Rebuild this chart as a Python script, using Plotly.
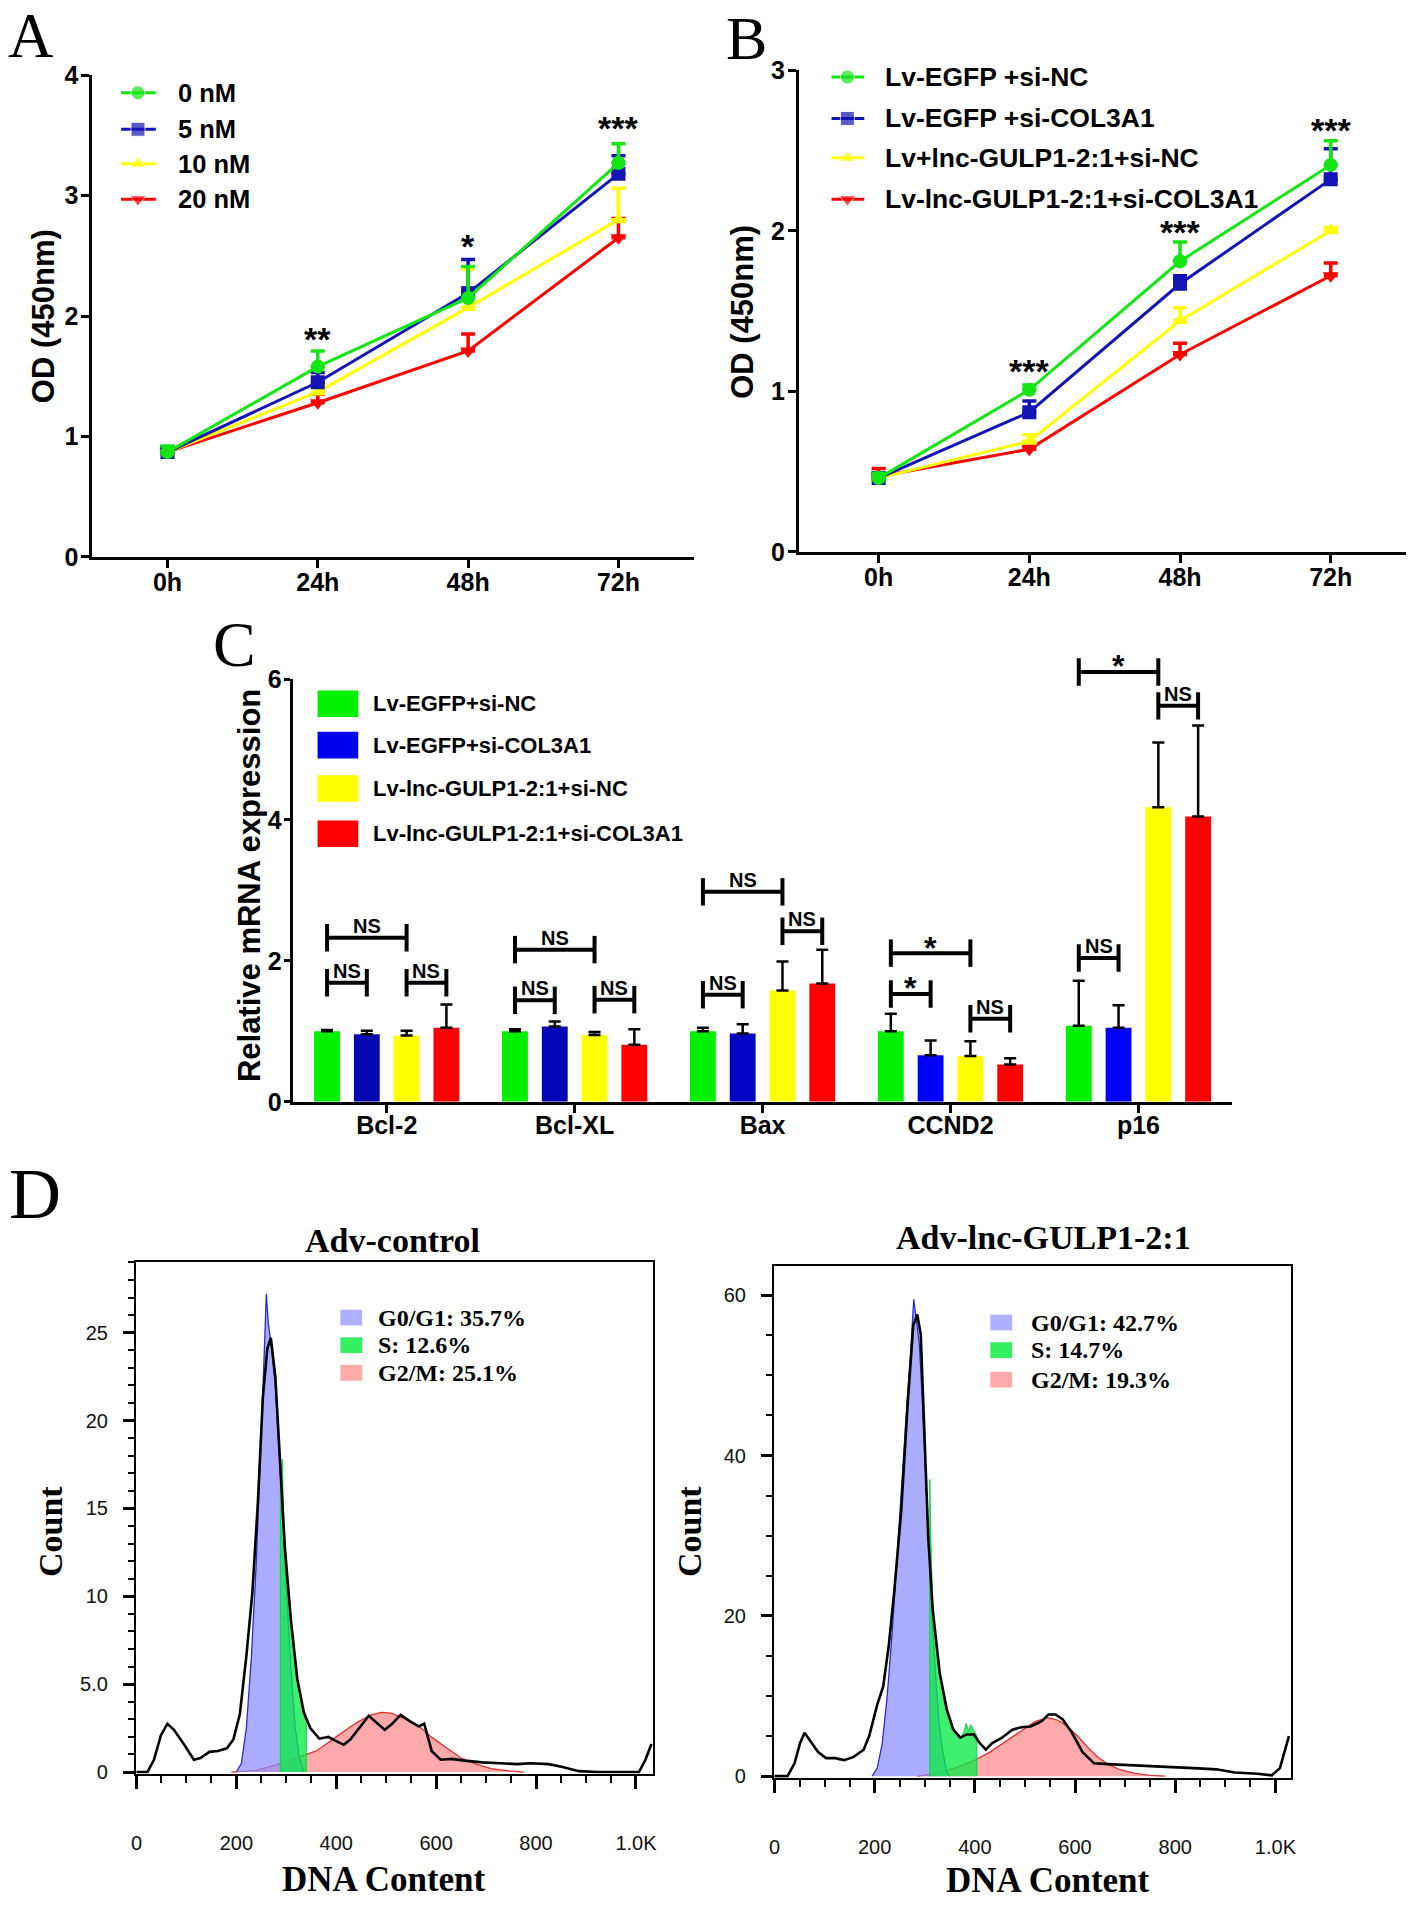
import plotly.graph_objects as go

W, H = 1418, 1909

# ---------------- Panel A data ----------------
time_labels = ['0h', '24h', '48h', '72h']
a_names = ['0 nM', '5 nM', '10 nM', '20 nM']
a_0nM = [0.87, 1.58, 2.15, 3.27]
a_5nM = [0.87, 1.45, 2.19, 3.18]
a_10nM = [0.87, 1.37, 2.07, 2.80]
a_20nM = [0.87, 1.28, 1.71, 2.65]
a_err_0nM = [0.05, 0.13, 0.26, 0.16]
a_err_5nM = [0.04, 0.08, 0.28, 0.15]
a_err_10nM = [0.03, 0.05, 0.32, 0.26]
a_err_20nM = [0.03, 0.07, 0.14, 0.16]
a_sig = ['**', '*', '***']
a_sig_t = ['24h', '48h', '72h']
a_sig_y = [1.84, 2.61, 3.59]

# ---------------- Panel B data ----------------
b_names = ['Lv-EGFP +si-NC', 'Lv-EGFP +si-COL3A1', 'Lv+lnc-GULP1-2:1+si-NC', 'Lv-lnc-GULP1-2:1+si-COL3A1']
b_egfp_nc = [0.46, 1.01, 1.81, 2.41]
b_egfp_col = [0.46, 0.87, 1.67, 2.32]
b_lnc_nc = [0.46, 0.69, 1.44, 2.00]
b_lnc_col = [0.47, 0.64, 1.23, 1.72]
b_err_egfp_nc = [0.03, 0.03, 0.12, 0.15]
b_err_egfp_col = [0.03, 0.07, 0.05, 0.19]
b_err_lnc_nc = [0.03, 0.04, 0.08, 0.02]
b_err_lnc_col = [0.05, 0.02, 0.07, 0.08]
b_sig = ['***', '***', '***']
b_sig_t = ['24h', '48h', '72h']
b_sig_y = [1.15, 2.01, 2.65]

# ---------------- Panel C data ----------------
genes = ['Bcl-2', 'Bcl-XL', 'Bax', 'CCND2', 'p16']
c_names = ['Lv-EGFP+si-NC', 'Lv-EGFP+si-COL3A1', 'Lv-lnc-GULP1-2:1+si-NC', 'Lv-lnc-GULP1-2:1+si-COL3A1']
c_egfp_nc = [1.00, 1.00, 1.00, 1.00, 1.08]
c_egfp_col = [0.96, 1.07, 0.97, 0.66, 1.05]
c_lnc_nc = [0.94, 0.95, 1.58, 0.65, 4.18]
c_lnc_col = [1.05, 0.81, 1.68, 0.53, 4.05]
c_err_egfp_nc = [0.02, 0.03, 0.05, 0.25, 0.64]
c_err_egfp_col = [0.05, 0.07, 0.13, 0.21, 0.32]
c_err_lnc_nc = [0.07, 0.04, 0.41, 0.21, 0.92]
c_err_lnc_col = [0.33, 0.22, 0.48, 0.09, 1.29]
# brackets: gene index, from bar, to bar, y of line, label
br_gene = [0, 0, 0, 1, 1, 1, 2, 2, 2, 3, 3, 3, 4, 4, 4]
br_from = [0, 0, 2, 0, 0, 2, 0, 0, 2, 0, 0, 2, 0, 0, 2]
br_to = [2, 1, 3, 2, 1, 3, 2, 1, 3, 2, 1, 3, 2, 1, 3]
br_y = [2.33, 1.69, 1.69, 2.16, 1.44, 1.45, 2.98, 1.52, 2.42, 2.11, 1.53, 1.18, 6.10, 2.04, 5.62]
br_lab = ['NS', 'NS', 'NS', 'NS', 'NS', 'NS', 'NS', 'NS', 'NS', '*', '*', 'NS', '*', 'NS', 'NS']

# ---------------- Panel D data ----------------
d_ctrl_x = [0, 22, 35, 49, 62, 75, 97, 115, 128, 146, 163, 181, 194, 207, 220, 232, 243, 253, 262, 269,
            278, 287, 297, 309, 322, 335, 348, 366, 384, 397, 415, 428, 445, 465, 481, 497, 512, 529, 547, 565,
            576, 591, 609, 631, 657, 692, 728, 763, 789, 825, 851, 886, 922, 975, 1006, 1019, 1031]
d_ctrl_y = [0, 0, 0.7, 2.1, 2.75, 2.4, 1.5, 0.7, 0.8, 1.15, 1.2, 1.35, 1.85, 3.3, 6.6, 10.2, 15.3, 21.3, 24.1, 24.7,
            22.5, 17.9, 12.8, 8.7, 5.3, 3.4, 2.5, 1.9, 2.0, 1.8, 1.55, 1.85, 2.5, 3.2, 2.8, 2.4, 2.75, 3.25, 2.9, 2.6,
            2.75, 1.2, 0.7, 0.75, 0.65, 0.55, 0.5, 0.45, 0.5, 0.45, 0.3, 0.05, 0, 0, 0, 0.7, 1.6]
d_ctrl_g1_x = [200, 210, 220, 230, 240, 250, 256, 260, 264, 270, 278, 286, 294, 302, 310, 318, 326, 335]
d_ctrl_g1_y = [0, 0.5, 2.5, 6.5, 12, 19, 24, 27.2, 25.5, 24.3, 22, 18, 13.5, 9.5, 5.5, 2.5, 0.8, 0]
d_ctrl_s_x = [288, 288, 292, 295, 300, 306, 312, 318, 324, 330, 336, 340, 340]
d_ctrl_s_y = [0, 16.5, 17.8, 14.0, 11.8, 9.6, 7.6, 6.0, 4.9, 4.0, 3.2, 2.9, 0]
d_ctrl_g2_x = [190, 240, 290, 330, 360, 400, 440, 470, 490, 510, 540, 570, 590, 620, 650, 680, 710, 745, 776]
d_ctrl_g2_y = [0, 0.1, 0.5, 0.9, 1.2, 2.0, 2.8, 3.25, 3.4, 3.35, 3.0, 2.5, 2.0, 1.4, 0.8, 0.45, 0.2, 0.07, 0]
d_ctrl_legend = ['G0/G1: 35.7%', 'S: 12.6%', 'G2/M: 25.1%']

d_lnc_x = [0, 26, 40, 51, 60, 72, 87, 103, 121, 139, 158, 178, 189, 205, 217, 228, 239, 253, 266, 277,
           285, 292, 298, 307, 316, 330, 344, 357, 371, 384, 398, 410, 422, 434, 452, 475, 493, 511, 525, 534,
           547, 561, 575, 593, 615, 638, 665, 701, 747, 792, 837, 882, 919, 964, 993, 1009, 1020, 1027]
d_lnc_y = [0, 0, 1.6, 4.1, 5.4, 4.3, 3.0, 2.25, 2.25, 2.0, 2.4, 3.3, 5.0, 8.9, 11.2, 16.2, 23, 33.1, 46.6, 56.2,
           57.6, 55.1, 44.4, 29.7, 20.7, 12.8, 8.3, 5.8, 4.8, 5.2, 5.2, 4.1, 3.3, 4.1, 4.7, 5.8, 6.1, 6.2, 6.6, 6.9,
           7.7, 7.7, 7.1, 5.5, 3.0, 1.6, 1.5, 1.4, 1.3, 1.2, 1.0, 0.85, 0.45, 0.3, 0.1, 1.0, 3.3, 5.0]
d_lnc_g1_x = [195, 205, 215, 225, 235, 245, 255, 265, 272, 278, 283, 289, 295, 301, 307, 313, 320, 328, 336, 344, 350]
d_lnc_g1_y = [0, 1, 4, 10, 18, 28, 38, 47, 53, 59.5, 57, 54, 47, 38, 30, 22, 14, 7, 3, 0.5, 0]
d_lnc_s_x = [310, 310, 312, 316, 323, 330, 337, 344, 351, 357, 364, 371, 378, 383, 387, 392, 397, 401, 404, 404]
d_lnc_s_y = [0, 37, 30, 20.7, 16.5, 12.8, 10.2, 8.3, 6.9, 5.8, 5.1, 4.8, 5.5, 6.6, 5.6, 6.4, 5.8, 5.4, 5.0, 0]
d_lnc_g2_x = [285, 320, 360, 400, 430, 460, 490, 520, 545, 565, 585, 605, 625, 645, 665, 690, 720, 750, 780]
d_lnc_g2_y = [0, 0.3, 1.0, 2.0, 3.0, 4.3, 5.6, 6.8, 7.3, 7.0, 6.2, 5.0, 3.6, 2.4, 1.5, 0.8, 0.35, 0.1, 0]
d_lnc_legend = ['G0/G1: 42.7%', 'S: 14.7%', 'G2/M: 19.3%']

dna_ticks = [0, 200, 400, 600, 800, 1000]
dna_ticktext = ['0', '200', '400', '600', '800', '1.0K']

# ---------------- styles ----------------
SANS = 'Liberation Sans'
NARROW = 'Liberation Sans Narrow, Liberation Sans'
SERIF = 'Liberation Serif'
GREEN, BLUE, YELLOW, RED = '#14e614', '#1414b4', '#ffff00', '#ff0000'
C_GREEN, C_YELLOW, C_RED = '#00f000', '#ffff00', '#ff0000'
C_BLUE = ['#0808b0', '#0505b8', '#0505c4', '#0000ff', '#0000ff']


def X(px):
    return px / W


def Y(py):
    return 1 - py / H


fig = go.Figure()


def add_line(xv, yv, err, color, symbol, xa, ya):
    fig.add_trace(go.Scatter(
        x=xv, y=yv, mode='lines+markers', xaxis=xa, yaxis=ya, showlegend=False,
        line=dict(color=color, width=3),
        marker=dict(symbol=symbol, size=14, color=color),
        error_y=dict(type='data', array=err, arrayminus=[0] * len(err), symmetric=False,
                     color=color, thickness=3.5, width=7)))


# Panel A (drawn bottom to top)
add_line(time_labels, a_20nM, a_err_20nM, RED, 'triangle-down', 'x', 'y')
add_line(time_labels, a_10nM, a_err_10nM, YELLOW, 'triangle-up', 'x', 'y')
add_line(time_labels, a_5nM, a_err_5nM, BLUE, 'square', 'x', 'y')
add_line(time_labels, a_0nM, a_err_0nM, GREEN, 'circle', 'x', 'y')
# Panel B
add_line(time_labels, b_lnc_col, b_err_lnc_col, RED, 'triangle-down', 'x2', 'y2')
add_line(time_labels, b_lnc_nc, b_err_lnc_nc, YELLOW, 'triangle-up', 'x2', 'y2')
add_line(time_labels, b_egfp_col, b_err_egfp_col, BLUE, 'square', 'x2', 'y2')
add_line(time_labels, b_egfp_nc, b_err_egfp_nc, GREEN, 'circle', 'x2', 'y2')

# Panel C bars
for vals, errs, col, name in [(c_egfp_nc, c_err_egfp_nc, C_GREEN, c_names[0]),
                              (c_egfp_col, c_err_egfp_col, C_BLUE, c_names[1]),
                              (c_lnc_nc, c_err_lnc_nc, C_YELLOW, c_names[2]),
                              (c_lnc_col, c_err_lnc_col, C_RED, c_names[3])]:
    fig.add_trace(go.Bar(
        x=genes, y=vals, name=name, xaxis='x3', yaxis='y3', showlegend=False,
        marker=dict(color=col, line=dict(width=0)),
        error_y=dict(type='data', array=errs, arrayminus=[0] * len(errs), symmetric=False,
                     color='black', thickness=2.5, width=6)))

# overlay axis for C significance brackets
fig.add_trace(go.Scatter(x=[], y=[], xaxis='x4', yaxis='y4', showlegend=False, hoverinfo='skip'))


# Panel D histograms
def add_hist(xa, ya, bx, by, g1x, g1y, sx, sy, g2x, g2y):
    fig.add_trace(go.Scatter(x=g2x, y=g2y, xaxis=xa, yaxis=ya, mode='lines', fill='tozeroy',
                             fillcolor='rgba(255,100,100,0.55)', line=dict(color='#e43030', width=1.3),
                             showlegend=False))
    fig.add_trace(go.Scatter(x=g1x, y=g1y, xaxis=xa, yaxis=ya, mode='lines', fill='tozeroy',
                             fillcolor='rgba(140,140,255,0.72)', line=dict(color='#2a2ad0', width=1.3),
                             showlegend=False))
    fig.add_trace(go.Scatter(x=sx, y=sy, xaxis=xa, yaxis=ya, mode='lines', fill='toself',
                             fillcolor='rgba(10,235,70,0.78)', line=dict(color='#10d040', width=1),
                             showlegend=False))
    fig.add_trace(go.Scatter(x=bx, y=by, xaxis=xa, yaxis=ya, mode='lines',
                             line=dict(color='black', width=2.6), showlegend=False))


add_hist('x5', 'y5', d_ctrl_x, d_ctrl_y, d_ctrl_g1_x, d_ctrl_g1_y, d_ctrl_s_x, d_ctrl_s_y, d_ctrl_g2_x, d_ctrl_g2_y)
add_hist('x6', 'y6', d_lnc_x, d_lnc_y, d_lnc_g1_x, d_lnc_g1_y, d_lnc_s_x, d_lnc_s_y, d_lnc_g2_x, d_lnc_g2_y)

# ---------------- pixel overlay for legends ----------------
shapes = []
annotations = []


def ann(x, y, text, size, family=SANS, bold=True, xanchor='center', yanchor='middle', angle=0, ref=('x7', 'y7')):
    annotations.append(dict(x=x, y=y, xref=ref[0], yref=ref[1], text=text, showarrow=False,
                            xanchor=xanchor, yanchor=yanchor, textangle=angle,
                            font=dict(family=family, size=size, color='black',
                                      weight='bold' if bold else 'normal')))


# legend A
a_leg_y = [80, 117, 152, 188]
a_cols = [GREEN, BLUE, YELLOW, RED]
a_syms = ['circle', 'square', 'triangle-up', 'triangle-down']
for i in range(4):
    fig.add_trace(go.Scatter(x=[117, 134, 152], y=[a_leg_y[i]] * 3, xaxis='x7', yaxis='y7', mode='lines+markers',
                             line=dict(color=a_cols[i], width=3),
                             marker=dict(symbol=a_syms[i], size=[0, 14, 0], color=a_cols[i]),
                             showlegend=False, hoverinfo='skip'))
    ann(172, a_leg_y[i], a_names[i], 25.5, xanchor='left')

# legend B
b_leg_y = [64, 106, 146, 188]
for i in range(4):
    fig.add_trace(go.Scatter(x=[833, 849, 866], y=[b_leg_y[i]] * 3, xaxis='x7', yaxis='y7', mode='lines+markers',
                             line=dict(color=a_cols[i], width=3),
                             marker=dict(symbol=a_syms[i], size=[0, 14, 0], color=a_cols[i]),
                             showlegend=False, hoverinfo='skip'))
    ann(885, b_leg_y[i], b_names[i], 26.5, xanchor='left')

# legend C
c_leg_y = [700, 742, 786, 832]
c_leg_cols = [C_GREEN, '#0000f0', C_YELLOW, C_RED]
for i in range(4):
    shapes.append(dict(type='rect', xref='x7', yref='y7', x0=315, x1=356, y0=c_leg_y[i] - 13.5,
                       y1=c_leg_y[i] + 13.5, fillcolor=c_leg_cols[i], line=dict(width=0)))
    ann(369, c_leg_y[i], c_names[i], 22, family=NARROW, xanchor='left')

# legend D
d_cols = ['#b0b0ff', '#36f064', '#ffaaaa']
for (bx, tx, rows, labels) in [(338, 374, [1323, 1351, 1379], d_ctrl_legend),
                               (993, 1032, [1328, 1356, 1386], d_lnc_legend)]:
    for i in range(3):
        shapes.append(dict(type='rect', xref='x7', yref='y7', x0=bx, x1=bx + 22, y0=rows[i] - 8,
                           y1=rows[i] + 8, fillcolor=d_cols[i], line=dict(width=0)))
        ann(tx, rows[i], labels[i], 24, family=SERIF, xanchor='left')

# significance A / B
for t, s, yv in zip(a_sig_t, a_sig, a_sig_y):
    ann(t, yv - 0.03, s, 34, ref=('x', 'y'))
for t, s, yv in zip(b_sig_t, b_sig, b_sig_y):
    ann(t, yv - 0.02, s, 34, ref=('x2', 'y2'))

# significance C brackets
slot = 0.2116
for g, f, t, yv, lab in zip(br_gene, br_from, br_to, br_y, br_lab):
    xa = g + (f - 1.5) * slot
    xb = g + (t - 1.5) * slot
    lw = 4
    shapes.append(dict(type='line', xref='x4', yref='y4', x0=xa, x1=xb, y0=yv, y1=yv,
                       line=dict(color='black', width=lw)))
    for xx in (xa, xb):
        shapes.append(dict(type='line', xref='x4', yref='y4', x0=xx, x1=xx, y0=yv - 0.195, y1=yv + 0.195,
                           line=dict(color='black', width=lw)))
    if lab == '*':
        ann((xa + xb) / 2, yv + 0.08, lab, 32, ref=('x4', 'y4'))
    else:
        ann((xa + xb) / 2, yv + 0.17, lab, 20, family=NARROW, ref=('x4', 'y4'))

# panel letters
ann(26, 22, 'A', 63, family=SERIF, bold=False)
ann(747, 24, 'B', 62, family=SERIF, bold=False)
ann(231, 640, 'C', 64, family=SERIF, bold=False)
ann(30, 1198, 'D', 72, family=SERIF, bold=False)

# axis titles
ann(39, 307, 'OD (450nm)', 31, angle=-90)
ann(743, 302, 'OD (450nm)', 31, angle=-90)
ann(246, 885, 'Relative mRNA expression', 31, angle=-90)
ann(391, 1245, 'Adv-control', 34, family=SERIF)
ann(1047, 1242, 'Adv-lnc-GULP1-2:1', 34, family=SERIF)
ann(46, 1540, 'Count', 34, family=SERIF, angle=-90)
ann(690, 1540, 'Count', 34, family=SERIF, angle=-90)
ann(382, 1893, 'DNA Content', 35, family=SERIF)
ann(1051, 1894, 'DNA Content', 35, family=SERIF)

# ---------------- axes ----------------
def ax_common(**kw):
    d = dict(showline=True, linecolor='black', linewidth=3, ticks='outside', ticklen=8, tickwidth=3,
             tickcolor='black', showgrid=False, zeroline=False, fixedrange=True)
    d.update(kw)
    return d


tick_x_font = dict(family=SANS, size=25, color='black', weight='bold')
tick_y_font = dict(family=NARROW, size=25, color='black', weight='bold')

layout = dict(
    width=W, height=H, margin=dict(l=0, r=0, t=0, b=0), paper_bgcolor='white', plot_bgcolor='rgba(0,0,0,0)',
    showlegend=False, barmode='group', bargap=0.153, bargroupgap=0.35,
    xaxis=ax_common(domain=[X(88), X(694)], anchor='y', type='category', range=[-0.5, 3.5],
                    tickfont=tick_x_font, ticklabelstandoff=-7),
    yaxis=ax_common(domain=[Y(551), Y(62)], anchor='x', range=[0, 4], tickvals=[0, 1, 2, 3, 4],
                    tickfont=tick_y_font, ticklabelstandoff=-2),
    xaxis2=ax_common(domain=[X(800), X(1412)], anchor='y2', type='category', range=[-0.53, 3.5],
                     tickfont=tick_x_font, ticklabelstandoff=-7),
    yaxis2=ax_common(domain=[Y(546), Y(57)], anchor='x2', range=[0, 3], tickvals=[0, 1, 2, 3],
                     tickfont=tick_y_font, ticklabelstandoff=-2),
    xaxis3=ax_common(domain=[X(290), X(1237)], anchor='y3', type='category', range=[-0.5, 4.5],
                     tickfont=dict(family=SANS, size=25, color='black', weight='bold'), ticklabelstandoff=-9),
    yaxis3=ax_common(domain=[Y(1104), Y(675)], anchor='x3', range=[0, 6], tickvals=[0, 2, 4, 6], ticklen=6,
                     tickfont=tick_y_font, ticklabelstandoff=-3),
    xaxis4=dict(domain=[X(290), X(1237)], anchor='y4', range=[-0.5, 4.5], visible=False, fixedrange=True),
    yaxis4=dict(domain=[Y(1104), Y(620)], anchor='x4', range=[0, 6 * (1104 - 620) / (1104 - 675)],
                visible=False, fixedrange=True),
    xaxis5=dict(domain=[X(132), X(653)], anchor='y5', range=[-1, 1034], showline=True, mirror=True,
                linecolor='black', linewidth=2.2, ticks='outside', ticklen=13, tickwidth=2.5, tickcolor='black',
                tickvals=dna_ticks, ticktext=dna_ticktext, showgrid=False, zeroline=False,
                tickfont=dict(family=SANS, size=20, color='#111'), ticklabelstandoff=37,
                minor=dict(ticks='outside', dtick=50, tick0=0, ticklen=7, tickwidth=2, tickcolor='black',
                           showgrid=False), fixedrange=True),
    yaxis5=dict(domain=[Y(1786), Y(1267)], anchor='x5', range=[-0.1, 29], showline=True, mirror=True,
                linecolor='black', linewidth=2.2, ticks='outside', ticklen=11, tickwidth=2.5, tickcolor='black',
                tickvals=[0, 5, 10, 15, 20, 25], ticktext=['0', '5.0', '10', '15', '20', '25'],
                showgrid=False, zeroline=False, tickfont=dict(family=SANS, size=20, color='#111'),
                ticklabelstandoff=11,
                minor=dict(ticks='outside', dtick=1, tick0=0, ticklen=6, tickwidth=2, tickcolor='black',
                           showgrid=False), fixedrange=True),
    xaxis6=dict(domain=[X(775), X(1296)], anchor='y6', range=[-1, 1031], showline=True, mirror=True,
                linecolor='black', linewidth=2.2, ticks='outside', ticklen=13, tickwidth=2.5, tickcolor='black',
                tickvals=dna_ticks, ticktext=dna_ticktext, showgrid=False, zeroline=False,
                tickfont=dict(family=SANS, size=20, color='#111'), ticklabelstandoff=37,
                minor=dict(ticks='outside', dtick=50, tick0=0, ticklen=7, tickwidth=2, tickcolor='black',
                           showgrid=False), fixedrange=True),
    yaxis6=dict(domain=[Y(1790), Y(1271)], anchor='x6', range=[-0.2, 63.6], showline=True, mirror=True,
                linecolor='black', linewidth=2.2, ticks='outside', ticklen=11, tickwidth=2.5, tickcolor='black',
                tickvals=[0, 20, 40, 60], showgrid=False, zeroline=False,
                tickfont=dict(family=SANS, size=20, color='#111'), ticklabelstandoff=11,
                minor=dict(ticks='outside', dtick=5, tick0=0, ticklen=6, tickwidth=2, tickcolor='black',
                           showgrid=False), fixedrange=True),
    xaxis7=dict(domain=[0, 1], anchor='y7', range=[0, W], visible=False, fixedrange=True),
    yaxis7=dict(domain=[0, 1], anchor='x7', range=[H, 0], visible=False, fixedrange=True),
    shapes=shapes, annotations=annotations,
)
fig.update_layout(**layout)
fig.write_html('out.html', config={'displayModeBar': False},
               post_script="document.body.style.margin='0px';document.body.style.overflow='hidden';")
